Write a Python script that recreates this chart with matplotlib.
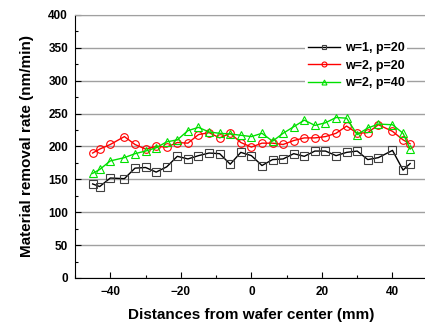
import numpy as np
import matplotlib
matplotlib.use("Agg")
import matplotlib.pyplot as plt
from matplotlib.ticker import MultipleLocator

plt.rcParams['font.family'] = ['Liberation Sans', 'DejaVu Sans']
plt.rcParams['font.weight'] = 'bold'

# positions across the wafer (mm)
pos = [-45, -43, -40, -36, -33, -30, -27, -24, -21, -18, -15, -12, -9, -6, -3, 0,
       3, 6, 9, 12, 15, 18, 21, 24, 27, 30, 33, 36, 40, 43, 45]

w1_p20 = [143, 139, 152, 151, 167, 168, 161, 169, 185, 181, 186, 190, 189, 173, 191, 186,
          171, 180, 181, 189, 185, 193, 193, 186, 191, 193, 180, 183, 194, 164, 174]
w2_p20 = [190, 196, 203, 215, 203, 196, 200, 199, 206, 205, 218, 221, 213, 220, 206, 199,
          205, 205, 203, 209, 213, 213, 215, 220, 231, 220, 221, 233, 223, 210, 204]
w2_p40 = [159, 165, 178, 183, 189, 193, 198, 207, 210, 224, 229, 222, 220, 219, 217, 215,
          220, 208, 220, 230, 240, 232, 236, 244, 243, 218, 228, 234, 233, 220, 196]

labels = ['w=1, p=20', 'w=2, p=20', 'w=2, p=40']
colors = ['black', 'red', '#00e000']
markers = ['s', 'o', '^']

fig = plt.figure(figsize=(4.25, 3.24), dpi=100)
ax = fig.add_axes([0.1765, 0.142, 0.83, 0.812])

for y, lab, c, m in zip([w1_p20, w2_p20, w2_p40], labels, colors, markers):
    mec = '#404040' if c == 'black' else c
    ax.plot(pos, y, color=c, lw=1.0, marker=m, ms=5.5, mfc='none', mec=mec,
            mew=0.8, label=lab)

ax.set_xlim(-50, 50)
ax.set_ylim(0, 400)
ax.xaxis.set_major_locator(MultipleLocator(20))
ax.xaxis.set_minor_locator(MultipleLocator(10))
ax.yaxis.set_major_locator(MultipleLocator(50))
ax.yaxis.set_minor_locator(MultipleLocator(25))
ax.tick_params(which='both', direction='in', labelsize=8.5, width=0.8)
ax.tick_params(which='major', length=4)
ax.tick_params(which='minor', length=2)
ax.tick_params(axis='x', pad=6)
ax.tick_params(axis='y', pad=5)
ax.grid(axis='y', color='#a0a0a0', lw=1.0)
ax.set_axisbelow(True)
ax.spines['right'].set_visible(False)
ax.spines['top'].set_color('#a0a0a0')

ax.set_xlabel('Distances from wafer center (mm)', fontsize=11, fontweight='bold', labelpad=7)
ax.set_ylabel('Material removal rate (nm/min)', fontsize=11, fontweight='bold', labelpad=10)

leg = ax.legend(loc='upper right', bbox_to_anchor=(0.96, 0.93), frameon=True,
                fontsize=9, markerscale=0.65, handlelength=2.6, handletextpad=0.4,
                labelspacing=0.45, borderpad=0.2)
leg.get_frame().set_edgecolor('none')
leg.get_frame().set_facecolor('white')
leg.get_frame().set_alpha(1)

fig.savefig('out.png', dpi=100)
